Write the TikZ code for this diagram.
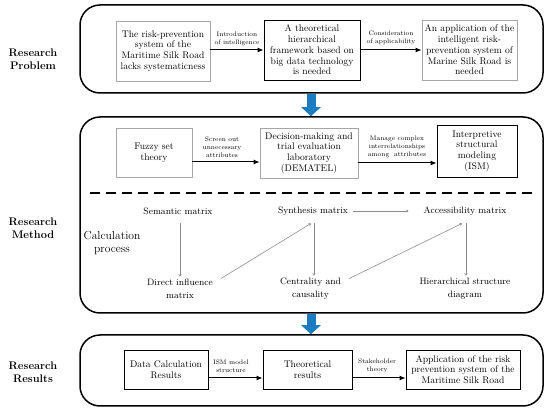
\documentclass[tikz,border=0pt]{standalone}
\usetikzlibrary{arrows.meta}
\definecolor{boxgray}{HTML}{A6A6A6}
\definecolor{linegray}{HTML}{8C8C8C}
\definecolor{flowblue}{HTML}{1B7DC0}
\begin{document}
\begin{tikzpicture}[x=1pt,y=-1pt,
  outer/.style={draw,line width=1.5pt,rounded corners=20pt,inner sep=0pt},
  graybox/.style={draw=boxgray,line width=0.8pt,align=center,inner sep=1pt,font=\fontsize{9.6}{10.7}\selectfont},
  blackbox/.style={draw=black,line width=0.9pt,align=center,inner sep=1pt,font=\fontsize{9.6}{10.7}\selectfont},
  side/.style={font=\fontsize{11}{13}\selectfont\bfseries,align=center},
  small/.style={font=\fontsize{6.5}{8.2}\selectfont,align=center,inner sep=1pt},
  calc/.style={font=\fontsize{9.3}{13}\selectfont,align=center,inner sep=1pt},
  flow/.style={-{Latex[length=6pt,width=5pt]},line width=1pt},
  calcarrow/.style={-{To[length=2.5pt,width=3pt]},draw=linegray,line width=0.6pt},
  bluearrow/.style={-{Triangle[length=9pt,width=19pt]},draw=flowblue,line width=9pt}
]
\useasboundingbox (0,0) rectangle (550,414);

% outer frames
\node[outer,minimum width=463pt,minimum height=88pt] (P) at (311.5,49) {};
\node[outer,minimum width=463pt,minimum height=196pt] (M) at (311.5,215) {};
\node[outer,minimum width=463pt,minimum height=71pt] (R) at (311.5,370.5) {};

% side labels
\node[side] (lp) at (33,59) {Research\\Problem};
\node[side] (lm) at (33,228) {Research\\Method};
\node[side] (lr) at (33,372.5) {Research\\Results};

% top row
\node[graybox,minimum width=94pt,minimum height=60pt] (b1) at (163,51) {The risk-prevention\\system of the\\Maritime Silk Road\\lacks systematicness};
\node[blackbox,minimum width=96pt,minimum height=60pt] (b2) at (312,50) {A theoretical\\hierarchical\\framework based on\\big data technology\\is needed};
\node[graybox,minimum width=95pt,minimum height=60pt] (b3) at (469.5,50) {An application of the\\intelligent risk-\\prevention system of\\Marine Silk Road is\\needed};
\draw[flow] (b1.east |- b2.west) -- (b2.west);
\draw[flow] (b2.east) -- (b3.west);
\node[small,anchor=south] (t1) at (237,47) {Introduction\\of intelligence};
\node[small,anchor=south] (t2) at (391,46) {Consideration\\of applicability};

% middle row
\node[graybox,minimum width=76pt,minimum height=49pt] (m1) at (154,152.5) {Fuzzy set\\theory};
\node[graybox,minimum width=98pt,minimum height=50pt] (m2) at (309,153) {Decision-making and\\trial evaluation\\laboratory\\(DEMATEL)};
\node[blackbox,minimum width=80pt,minimum height=52pt] (m3) at (477,151) {Interpretive\\structural\\modeling\\(ISM)};
\draw[flow] ([yshift=-9.5pt]m1.east) -- ([yshift=-9.5pt]m1.east -| m2.west);
\draw[flow] ([yshift=-10pt]m2.east) -- ([yshift=-10pt]m2.east -| m3.west);
\node[small,anchor=south] (t3) at (222,159) {Screen out\\unnecessary\\attributes};
\node[small,anchor=south] (t4) at (397,159) {Manage complex\\interrelationships\\among\ \ attributes};

\coordinate (d1) at (90,193);
\coordinate (d2) at (532,193);
\draw[line width=1.6pt,dash pattern=on 10pt off 6pt] (d1) -- (d2);

\node[font=\fontsize{11.6}{12.5}\selectfont,align=center] (cp) at (112,243) {Calculation\\process};

\node[calc] (sem) at (178,211) {Semantic matrix};
\node[calc] (syn) at (313,211) {Synthesis matrix};
\node[calc] (acc) at (465,211) {Accessibility matrix};
\node[calc] (dir) at (180,288.5) {Direct influence\\matrix};
\node[calc] (cen) at (310.5,288.5) {Centrality and\\causality};
\node[calc] (hie) at (465,288.5) {Hierarchical structure\\diagram};

\draw[calcarrow] ([xshift=2pt,yshift=-7pt]sem.south) -- ([yshift=1pt]dir.north);
\draw[calcarrow] ([xshift=4pt]syn.east) -- ([xshift=-14pt]acc.west);
\draw[calcarrow] ([xshift=7pt,yshift=-1pt]dir.north east) -- ([xshift=-2pt,yshift=-7pt]syn.south);
\draw[calcarrow] ([xshift=1pt,yshift=-7pt]syn.south) -- ([xshift=1pt,yshift=1pt]syn.south |- cen.north);
\draw[calcarrow] ([xshift=7pt,yshift=-2pt]cen.north east) -- ([xshift=-3pt,yshift=-7pt]acc.south);
\draw[calcarrow] ([xshift=1pt,yshift=-7pt]acc.south) -- ([xshift=1pt,yshift=1pt]acc.south |- hie.north);

% bottom row
\node[blackbox,minimum width=84pt,minimum height=39pt] (r1) at (166,369.5) {Data Calculation\\Results};
\node[blackbox,minimum width=89pt,minimum height=39pt] (r2) at (307.5,369.5) {Theoretical\\results};
\node[blackbox,minimum width=114pt,minimum height=39pt] (r3) at (463,369.5) {Application of the risk\\prevention system of the\\Maritime Silk Road};
\draw[flow] ([yshift=-8.5pt]r1.east) -- ([yshift=-8.5pt]r1.east -| r2.west);
\draw[flow] ([yshift=-8.5pt]r2.east) -- ([yshift=-8.5pt]r2.east -| r3.west);
\node[small,anchor=south west] (t5) at (212,374) {ISM model\\structure};
\node[small,anchor=south west] (t6) at (357,374) {Stakeholder\\theory};

% blue arrows
\coordinate (bx) at (311,0);
\draw[bluearrow] (P.south -| bx) -- (M.north -| bx);
\draw[bluearrow] (M.south -| bx) -- (R.north -| bx);
\end{tikzpicture}
\end{document}
